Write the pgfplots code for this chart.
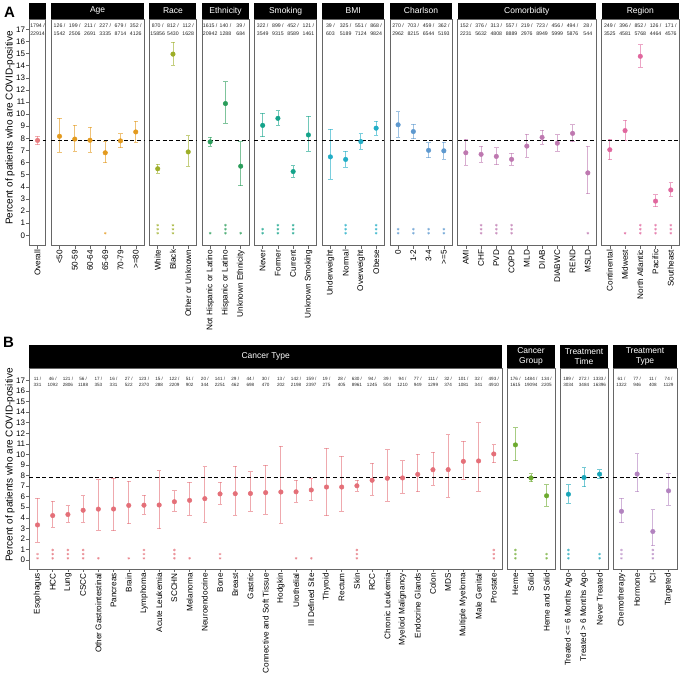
\documentclass[border=0pt]{standalone}
\usepackage{pgfplots}
\pgfplotsset{compat=1.18}
\usepackage{pgfplotstable}
\usepackage{fontspec}
\setmainfont{Liberation Sans}

\definecolor{cOv}{HTML}{E77A7E}
\definecolor{cAge}{HTML}{E39A1E}
\definecolor{cRace}{HTML}{9DAE28}
\definecolor{cEth}{HTML}{2A9D5A}
\definecolor{cSmk}{HTML}{14A38A}
\definecolor{cBMI}{HTML}{22ADC6}
\definecolor{cCh}{HTML}{5E99CF}
\definecolor{cCom}{HTML}{BE78B0}
\definecolor{cReg}{HTML}{E0679E}
\definecolor{cCT}{HTML}{E46F78}
\definecolor{cCG}{HTML}{6CAA2E}
\definecolor{cTT}{HTML}{18A5B8}
\definecolor{cTy}{HTML}{B282BF}

\pgfplotstableread{
x y lo hi
0 7.83 7.48 8.18
}\tOv
\pgfplotstableread{
x y lo hi
0 8.17 6.86 9.66
1 7.94 6.92 9.06
2 7.84 6.84 8.91
3 6.81 5.98 7.71
4 7.79 7.24 8.37
5 8.53 7.70 9.42
}\tAge
\pgfplotstableread{
x y lo hi
0 5.49 5.14 5.85
1 14.95 14.02 15.93
2 6.88 5.70 8.22
}\tRace
\pgfplotstableread{
x y lo hi
0 7.71 7.35 8.08
1 10.87 9.23 12.67
2 5.70 4.08 7.71
}\tEth
\pgfplotstableread{
x y lo hi
0 9.07 8.14 10.06
1 9.65 9.06 10.27
2 5.26 4.80 5.75
3 8.28 6.92 9.81
}\tSmk
\pgfplotstableread{
x y lo hi
0 6.47 4.64 8.75
1 6.26 5.62 6.95
2 7.73 7.12 8.37
3 8.84 8.28 9.41
}\tBMI
\pgfplotstableread{
x y lo hi
0 9.12 8.10 10.20
1 8.56 7.96 9.18
2 7.01 6.40 7.65
3 6.97 6.29 7.69
}\tCh
\pgfplotstableread{
x y lo hi
0 6.81 5.80 7.93
1 6.68 6.04 7.36
2 6.51 5.83 7.24
3 6.27 5.77 6.79
4 7.36 6.44 8.35
5 8.08 7.52 8.66
6 7.60 6.94 8.29
7 8.41 7.71 9.13
8 5.15 3.44 7.36
}\tCom
\pgfplotstableread{
x y lo hi
0 7.06 6.24 7.95
1 8.64 7.85 9.48
2 14.77 13.87 15.72
3 2.82 2.36 3.35
4 3.74 3.21 4.33
}\tReg
\pgfplotstableread{
x y lo hi
0 3.32 1.67 5.86
1 4.21 3.10 5.59
2 4.31 3.59 5.13
3 4.71 3.58 6.08
4 4.82 2.83 7.60
5 4.83 2.79 7.74
6 5.17 3.44 7.44
7 5.19 4.33 6.16
8 5.21 2.95 8.44
9 5.52 4.61 6.55
10 5.65 4.24 7.37
11 5.81 3.59 8.85
12 6.26 5.30 7.34
13 6.28 4.24 8.89
14 6.30 4.62 8.37
15 6.38 4.34 8.98
16 6.44 3.47 10.76
17 6.46 5.47 7.57
18 6.63 5.67 7.70
19 6.91 4.21 10.59
20 6.91 4.64 9.84
21 7.03 6.51 7.58
22 7.55 6.15 9.16
23 7.74 5.55 10.43
24 7.77 6.32 9.42
25 8.11 6.46 10.04
26 8.55 7.08 10.20
27 8.56 5.92 11.86
28 9.34 7.68 11.24
29 9.38 6.50 12.99
30 10.04 9.21 10.91
}\tCT
\pgfplotstableread{
x y lo hi
0 10.90 9.41 12.53
1 7.77 7.40 8.16
2 6.08 5.12 7.15
}\tCG
\pgfplotstableread{
x y lo hi
0 6.23 5.39 7.15
1 7.81 6.94 8.74
2 8.13 7.72 8.56
}\tTT
\pgfplotstableread{
x y lo hi
0 4.61 3.55 5.88
1 8.14 6.48 10.07
2 2.70 1.35 4.78
3 6.55 5.18 8.16
}\tTy

\tikzset{
  cntA/.style={font=\fontsize{5.2}{5.2}\selectfont, inner sep=0pt, text=black!85},
  cntB/.style={font=\fontsize{4.6}{4.6}\selectfont, inner sep=0pt, text=black!85},
}

\pgfplotsset{
  base/.style={scale only axis, anchor=south west, clip=false,
    axis line style={draw=black!60, line width=0.6pt},
    tick pos=left, tick align=outside, major tick length=3pt,
    tick style={draw=black!60, line width=0.5pt},
    x tick label style={rotate=90, anchor=east, font=\fontsize{8.2}{8.4}\selectfont, inner sep=1pt},
    y tick label style={font=\fontsize{8}{8}\selectfont, inner sep=1pt},
    ytick=\empty, /pgf/number format/assume math mode=true},
  pA/.style={base, height=226.7pt, ymin=-0.86, ymax=17.85},
  pB/.style={base, height=201pt, ymin=-0.85, ymax=18.18},
}

\newcommand{\EB}[2]{%
\addplot[forget plot, draw=none, mark=none, error bars/.cd, y dir=both, y explicit,
  error mark=|,
  error bar style={draw=#2, draw opacity=0.6, line width=0.8pt},
  error mark options={draw=#2, draw opacity=0.6, line width=0.8pt, mark size=2.2pt}]
  table[x=x, y=y, y error plus expr=\thisrow{hi}-\thisrow{y}, y error minus expr=\thisrow{y}-\thisrow{lo}] {#1};
\addplot[forget plot, only marks, mark=*, mark size=2.3pt, color=#2] table[x=x,y=y] {#1};
}
\newcommand{\REF}[1]{\addplot[forget plot, black, line width=0.85pt, dash pattern=on 4pt off 2.6pt] coordinates {(-0.54,7.83) (#1,7.83)};}
\newcommand{\STARS}[2]{\addplot[forget plot, only marks, mark=asterisk, mark size=1.3pt, color=#1, mark options={line width=0.45pt, opacity=0.8}] coordinates {#2};}
\newcommand{\CNT}[4]{%
\foreach \k/\n [count=\i from 0] in {#4}{\edef\tmp{\noexpand\node[#1] at (axis cs:\i,#2) {\k\space/}; \noexpand\node[#1] at (axis cs:\i,#3) {\n};}\tmp}}
\newcommand{\STRIP}[3]{%
\fill[black] (#1.north west) rectangle ([yshift=#2]#1.north east);
\node[text=white, font=\fontsize{8.5}{10}\selectfont, align=center] at ([yshift=#2/2]#1.north) {#3};}

\begin{document}
\begin{tikzpicture}
\path[use as bounding box] (0,0) rectangle (680pt,677pt);

% ---------------- Panel A ----------------
\begin{axis}[pA, name=aOv, at={(29.3pt,431.3pt)}, width=16.47pt, xmin=-0.54, xmax=0.54,
  xtick={0}, xticklabels={Overall}, ytick={0,...,17}]
\EB{\tOv}{cOv}
\CNT{cntA}{17.27}{16.67}{1794/22914}
\REF{0.54}
\end{axis}
\STRIP{aOv}{16.3pt}{}

\begin{axis}[pA, name=aAge, at={(51.27pt,431.3pt)}, width=92.72pt, xmin=-0.54, xmax=5.54,
  xtick={0,...,5}, xticklabels={<50,50-59,60-64,65-69,70-79,>=80}]
\EB{\tAge}{cAge}
\STARS{cAge}{(3,0.17)}
\CNT{cntA}{17.27}{16.67}{126/1542,199/2506,211/2691,227/3335,679/8714,352/4126}
\REF{5.54}
\end{axis}
\STRIP{aAge}{16.3pt}{Age}

\begin{axis}[pA, name=aRace, at={(149.49pt,431.3pt)}, width=46.97pt, xmin=-0.54, xmax=2.54,
  xtick={0,...,2}, xticklabels={White,Black,Other or Unknown}]
\EB{\tRace}{cRace}
\STARS{cRace}{(0,0.17)(0,0.5)(0,0.83)(1,0.17)(1,0.5)(1,0.83)}
\CNT{cntA}{17.27}{16.67}{870/15856,812/5430,112/1628}
\REF{2.54}
\end{axis}
\STRIP{aRace}{16.3pt}{Race}

\begin{axis}[pA, name=aEth, at={(201.96pt,431.3pt)}, width=46.97pt, xmin=-0.54, xmax=2.54,
  xtick={0,...,2}, xticklabels={Not Hispanic or Latino,Hispanic or Latino,Unknown Ethnicity}]
\EB{\tEth}{cEth}
\STARS{cEth}{(0,0.17)(1,0.17)(1,0.5)(1,0.83)(2,0.17)}
\CNT{cntA}{17.27}{16.67}{1615/20942,140/1288,39/684}
\REF{2.54}
\end{axis}
\STRIP{aEth}{16.3pt}{Ethnicity}

\begin{axis}[pA, name=aSmk, at={(254.43pt,431.3pt)}, width=62.22pt, xmin=-0.54, xmax=3.54,
  xtick={0,...,3}, xticklabels={Never,Former,Current,Unknown Smoking}]
\EB{\tSmk}{cSmk}
\STARS{cSmk}{(0,0.17)(0,0.5)(1,0.17)(1,0.5)(1,0.83)(2,0.17)(2,0.5)(2,0.83)}
\CNT{cntA}{17.27}{16.67}{322/3549,899/9315,452/8589,121/1461}
\REF{3.54}
\end{axis}
\STRIP{aSmk}{16.3pt}{Smoking}

\begin{axis}[pA, name=aBMI, at={(322.15pt,431.3pt)}, width=62.22pt, xmin=-0.54, xmax=3.54,
  xtick={0,...,3}, xticklabels={Underweight,Normal,Overweight,Obese}]
\EB{\tBMI}{cBMI}
\STARS{cBMI}{(1,0.17)(1,0.5)(1,0.83)(3,0.17)(3,0.5)(3,0.83)}
\CNT{cntA}{17.27}{16.67}{39/603,325/5189,551/7124,868/9824}
\REF{3.54}
\end{axis}
\STRIP{aBMI}{16.3pt}{BMI}

\begin{axis}[pA, name=aCh, at={(389.87pt,431.3pt)}, width=62.22pt, xmin=-0.54, xmax=3.54,
  xtick={0,...,3}, xticklabels={0,1-2,3-4,>=5}]
\EB{\tCh}{cCh}
\STARS{cCh}{(0,0.17)(0,0.5)(1,0.17)(1,0.5)(2,0.17)(2,0.5)(3,0.17)(3,0.5)}
\CNT{cntA}{17.27}{16.67}{270/2962,703/8215,459/6544,362/5193}
\REF{3.54}
\end{axis}
\STRIP{aCh}{16.3pt}{Charlson}

\begin{axis}[pA, name=aCom, at={(457.59pt,431.3pt)}, width=138.47pt, xmin=-0.54, xmax=8.54,
  xtick={0,...,8}, xticklabels={AMI,CHF,PVD,COPD,MLD,DIAB,DIABWC,REND,MSLD}]
\EB{\tCom}{cCom}
\STARS{cCom}{(1,0.17)(1,0.5)(1,0.83)(2,0.17)(2,0.5)(2,0.83)(3,0.17)(3,0.5)(3,0.83)(8,0.17)}
\CNT{cntA}{17.27}{16.67}{152/2231,376/5632,313/4808,557/8889,219/2976,723/8949,456/5999,494/5876,28/544}
\REF{8.54}
\end{axis}
\STRIP{aCom}{16.3pt}{Comorbidity}

\begin{axis}[pA, name=aReg, at={(601.56pt,431.3pt)}, width=77.47pt, xmin=-0.54, xmax=4.54,
  xtick={0,...,4}, xticklabels={Continental,Midwest,North Atlantic,Pacific,Southeast}]
\EB{\tReg}{cReg}
\STARS{cReg}{(1,0.17)(2,0.17)(2,0.5)(2,0.83)(3,0.17)(3,0.5)(3,0.83)(4,0.17)(4,0.5)(4,0.83)}
\CNT{cntA}{17.27}{16.67}{249/3525,396/4581,852/5768,126/4464,171/4576}
\REF{4.54}
\end{axis}
\STRIP{aReg}{16.3pt}{Region}

% ---------------- Panel B ----------------
\begin{axis}[pB, name=bCT, at={(29.3pt,108pt)}, width=472.7pt, xmin=-0.54, xmax=30.54,
  xtick={0,...,30}, ytick={0,...,17},
  xticklabels={Esophagus,HCC,Lung,CSCC,Other Gastrointestinal,Pancreas,Brain,Lymphoma,Acute Leukemia,SCCHN,Melanoma,Neuroendocrine,Bone,Breast,Gastric,Connective and Soft Tissue,Hodgkin,Urothelial,Ill Defined Site,Thyroid,Rectum,Skin,RCC,Chronic Leukemia,Myeloid Malignancy,Endocrine Glands,Colon,MDS,Multiple Myeloma,Male Genital,Prostate}]
\EB{\tCT}{cCT}
\STARS{cCT}{(0,0.16)(0,0.56)(1,0.16)(1,0.56)(1,0.95)(2,0.16)(2,0.56)(2,0.95)(3,0.16)(3,0.56)(3,0.95)(4,0.16)(6,0.16)(7,0.16)(7,0.56)(7,0.95)(9,0.16)(9,0.56)(9,0.95)(10,0.16)(12,0.16)(12,0.56)(17,0.16)(18,0.16)(21,0.16)(21,0.56)(21,0.95)(30,0.16)(30,0.56)(30,0.95)}
\CNT{cntB}{17.14}{16.57}{11/331,46/1092,121/2806,56/1188,17/353,16/331,27/522,123/2370,15/288,122/2209,51/902,20/344,141/2251,29/462,44/698,30/470,13/202,142/2198,159/2397,19/275,28/405,630/8961,94/1245,39/504,94/1210,77/949,111/1299,32/374,101/1081,32/341,493/4910}
\REF{30.54}
\end{axis}
\STRIP{bCT}{23pt}{Cancer Type}

\begin{axis}[pB, name=bCG, at={(507pt,108pt)}, width=48pt, xmin=-0.54, xmax=2.54,
  xtick={0,...,2}, xticklabels={Heme,Solid,Heme and Solid}]
\EB{\tCG}{cCG}
\STARS{cCG}{(0,0.16)(0,0.56)(0,0.95)(2,0.16)(2,0.56)}
\CNT{cntB}{17.14}{16.57}{176/1615,1484/19094,134/2205}
\REF{2.54}
\end{axis}
\STRIP{bCG}{23pt}{Cancer\\Group}

\begin{axis}[pB, name=bTT, at={(560pt,108pt)}, width=48pt, xmin=-0.54, xmax=2.54,
  xtick={0,...,2}, xticklabels={Treated <= 6 Months Ago,Treated > 6 Months Ago,Never Treated}]
\EB{\tTT}{cTT}
\STARS{cTT}{(0,0.16)(0,0.56)(0,0.95)(2,0.16)(2,0.56)}
\CNT{cntB}{17.14}{16.57}{189/3034,272/3484,1333/16396}
\REF{2.54}
\end{axis}
\STRIP{bTT}{23pt}{Treatment\\Time}

\begin{axis}[pB, name=bTy, at={(613pt,108pt)}, width=64pt, xmin=-0.54, xmax=3.54,
  xtick={0,...,3}, xticklabels={Chemotherapy,Hormone,ICI,Targeted}]
\EB{\tTy}{cTy}
\STARS{cTy}{(0,0.16)(0,0.56)(0,0.95)(2,0.16)(2,0.56)(2,0.95)}
\CNT{cntB}{17.14}{16.57}{61/1322,77/946,11/408,74/1129}
\REF{3.54}
\end{axis}
\STRIP{bTy}{23pt}{Treatment\\Type}

% labels
\node[rotate=90, font=\fontsize{10}{12}\selectfont] at (10pt,549pt) {Percent of patients who are COVID-positive};
\node[rotate=90, font=\fontsize{10}{12}\selectfont] at (10pt,212pt) {Percent of patients who are COVID-positive};
\node[font=\bfseries\fontsize{15}{15}\selectfont] at (9.5pt,665pt) {A};
\node[font=\bfseries\fontsize{15}{15}\selectfont] at (8.5pt,335pt) {B};
\end{tikzpicture}
\end{document}
